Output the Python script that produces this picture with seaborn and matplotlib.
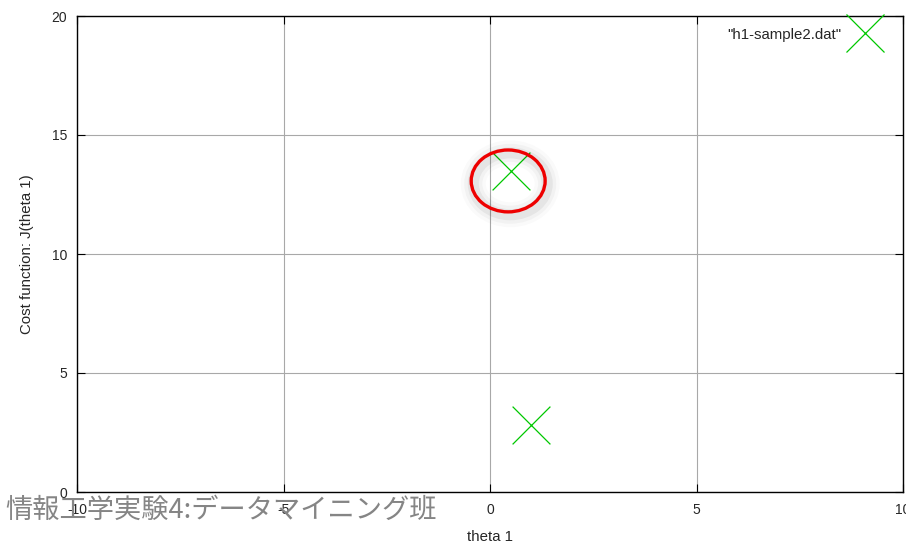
import matplotlib
matplotlib.use("Agg")
import matplotlib.pyplot as plt
import seaborn as sns
import pandas as pd
from matplotlib.patches import Ellipse
from matplotlib.lines import Line2D

# cost J(theta1) sampled at a few theta1 values
theta1 = [0.5, 1.0]
cost = [13.5, 2.8]
series_label = '"h1-sample2.dat"'

x_ticks = [-10, -5, 0, 5, 10]
y_ticks = [0, 5, 10, 15, 20]

# highlighted region (center x, center y, width, height)
ring_center = (0.44, 13.07)
ring_size = (1.79, 2.6)

caption = "情報工学実験4:データマイニング班"

sns.set_theme(style="white")
plt.rcParams["font.family"] = ["Liberation Sans", "DejaVu Sans"]

fig = plt.figure(figsize=(9.06, 5.42), dpi=100)
ax = fig.add_axes([77 / 906, 50 / 542, 826 / 906, 476 / 542])

df = pd.DataFrame({"theta 1": theta1, "J": cost})
green = "#00c800"
sns.scatterplot(data=df, x="theta 1", y="J", marker="x", s=740,
                color=green, linewidth=0.9, ax=ax, legend=False, zorder=3)

ax.set_xlim(-10, 10)
ax.set_ylim(0, 20)
ax.set_xticks(x_ticks)
ax.set_yticks(y_ticks)
ax.set_xticklabels([str(t) for t in x_ticks])
ax.set_yticklabels([str(t) for t in y_ticks])
ax.grid(True, color="#a8a8a8", linewidth=0.8)
ax.set_axisbelow(True)
for sp in ax.spines.values():
    sp.set_color("black")
    sp.set_linewidth(1.0)
    sp.set_zorder(4)
ax.tick_params(axis="both", direction="in", length=6, width=0.8, color="black",
               labelsize=10, top=True, right=True, bottom=True, left=True)
ax.tick_params(axis="x", pad=8)
ax.tick_params(axis="y", pad=7)
for lab in ax.get_xticklabels():
    lab.set_clip_on(False)

ax.set_xlabel("theta 1", fontsize=10.8, labelpad=9)
ax.set_ylabel("Cost function: J(theta 1)", fontsize=10.8, labelpad=13)

# soft shadow under the ring
for lw, a in [(18, 0.02), (13, 0.03), (8, 0.05)]:
    ax.add_patch(Ellipse((ring_center[0] + 0.05, ring_center[1] - 0.12),
                         ring_size[0], ring_size[1], fill=False,
                         edgecolor="black", linewidth=lw, alpha=a, zorder=4))
ax.add_patch(Ellipse(ring_center, ring_size[0], ring_size[1], fill=False,
                     edgecolor="#ee0000", linewidth=2.4, zorder=5))

handle = Line2D([], [], linestyle="none", marker="x", markersize=27,
                markeredgewidth=0.9, color=green)
leg = ax.legend([handle], [series_label], loc="upper right", frameon=False,
                markerfirst=False, fontsize=10.8, borderaxespad=0.0,
                bbox_to_anchor=(0.98, 0.988), handletextpad=0.6)

fig.text(5 / 906, 1 - 510 / 542, caption, color="#858585", fontsize=19.6,
         va="center", ha="left",
         family=["Noto Sans CJK JP", "DejaVu Sans"], zorder=10)

fig.savefig("out.png", dpi=100, facecolor="white")
